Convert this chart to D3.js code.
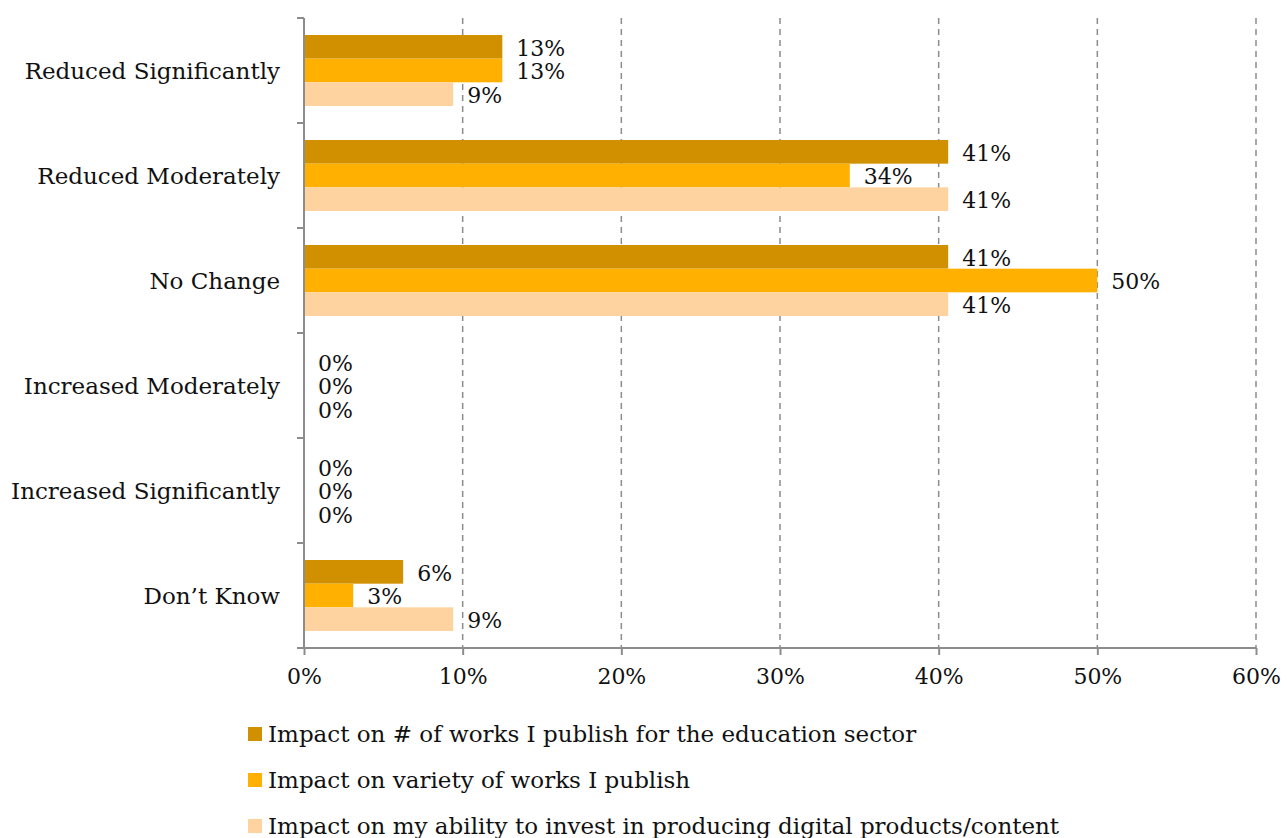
<!DOCTYPE html>
<meta charset="utf-8">
<style>
    body { margin: 0; background: #fff; }
    text { font-family: "DejaVu Serif", serif; fill: #111; }
    .grid line { stroke: #8c8c8c; stroke-dasharray: 6,5; stroke-width: 1.5; }
    .axis path, .axis line { stroke: #8c8c8c; stroke-width: 2; }
</style>
<svg width="1287" height="838"></svg>
<script src="https://d3js.org/d3.v7.min.js"></script>
<script>

    var categories = ["Reduced Significantly", "Reduced Moderately", "No Change",
                      "Increased Moderately", "Increased Significantly", "Don\u2019t Know"];
    var seriesNames = ["Impact on # of works I publish for the education sector",
                       "Impact on variety of works I publish",
                       "Impact on my ability to invest in producing digital products/content"];
    var worksCount = [12.5, 40.6, 40.6, 0, 0, 6.25];
    var variety = [12.5, 34.4, 50, 0, 0, 3.1];
    var invest = [9.4, 40.6, 40.6, 0, 0, 9.4];
    var tickValues = [0, 10, 20, 30, 40, 50, 60];
    var colors = ["#D09000", "#FFB000", "#FFD39F"];

    var series = [worksCount, variety, invest];

    var svg = d3.select("svg"),
        margin = {top: 18, right: 31, bottom: 190, left: 304},
        width = +svg.attr("width") - margin.left - margin.right,
        height = +svg.attr("height") - margin.top - margin.bottom;

    var x = d3.scaleLinear().domain([0, 60]).range([0, width]);
    var y = d3.scaleBand().domain(categories).range([0, height]);
    var inner = d3.scaleBand().domain([0, 1, 2]).range([17, y.bandwidth() - 17]);

    var g = svg.append("g")
        .attr("transform", "translate(" + margin.left + "," + margin.top + ")");

    // gridlines
    g.append("g").attr("class", "grid")
        .selectAll("line")
        .data(tickValues.slice(1))
        .enter().append("line")
        .attr("x1", function(d) { return x(d); })
        .attr("x2", function(d) { return x(d); })
        .attr("y1", 0)
        .attr("y2", height);

    var rows = [];
    categories.forEach(function(c, i) {
        series.forEach(function(s, j) {
            rows.push({cat: c, s: j, v: s[i]});
        });
    });

    g.selectAll(".bar")
        .data(rows)
        .enter().append("rect")
        .attr("class", "bar")
        .attr("x", 0)
        .attr("y", function(d) { return y(d.cat) + inner(d.s); })
        .attr("width", function(d) { return x(d.v); })
        .attr("height", inner.bandwidth())
        .attr("fill", function(d) { return colors[d.s]; });

    g.selectAll(".lbl")
        .data(rows)
        .enter().append("text")
        .attr("class", "lbl")
        .attr("x", function(d) { return x(d.v) + 14; })
        .attr("y", function(d) { return y(d.cat) + inner(d.s) + inner.bandwidth() / 2 + 1; })
        .attr("dy", "0.35em")
        .style("font-size", "22px")
        .text(function(d) { return Math.round(d.v) + "%"; });

    // y axis: ticks between categories
    var yAxis = g.append("g").attr("class", "axis");
    yAxis.append("line").attr("x1", 0).attr("x2", 0).attr("y1", 0).attr("y2", height);
    yAxis.selectAll(".tk")
        .data(d3.range(categories.length + 1))
        .enter().append("line")
        .attr("x1", -7).attr("x2", 0)
        .attr("y1", function(d) { return d * y.step(); })
        .attr("y2", function(d) { return d * y.step(); });
    yAxis.selectAll(".cat")
        .data(categories)
        .enter().append("text")
        .attr("x", -24)
        .attr("y", function(d) { return y(d) + y.bandwidth() / 2; })
        .attr("dy", "0.35em")
        .attr("text-anchor", "end")
        .style("font-size", "23px")
        .text(function(d) { return d; });

    g.append("g")
        .attr("class", "axis")
        .attr("transform", "translate(0," + height + ")")
        .call(d3.axisBottom(x).tickValues(tickValues).tickSize(7).tickPadding(13)
            .tickFormat(function(d) { return d + "%"; }))
        .call(function(a) {
            a.select(".domain").attr("d", "M0,0H" + width);
            a.selectAll("text").style("font-size", "22px").attr("font-family", null);
        });

    var legend = svg.append("g").attr("transform", "translate(248,734)");
    var li = legend.selectAll("g")
        .data(seriesNames)
        .enter().append("g")
        .attr("transform", function(d, i) { return "translate(0," + i * 46 + ")"; });
    li.append("rect").attr("x", 0).attr("y", -7).attr("width", 14).attr("height", 14)
        .attr("fill", function(d, i) { return colors[i]; });
    li.append("text").attr("x", 20).attr("dy", "0.35em")
        .style("font-size", "23px")
        .text(function(d) { return d; });
</script>
